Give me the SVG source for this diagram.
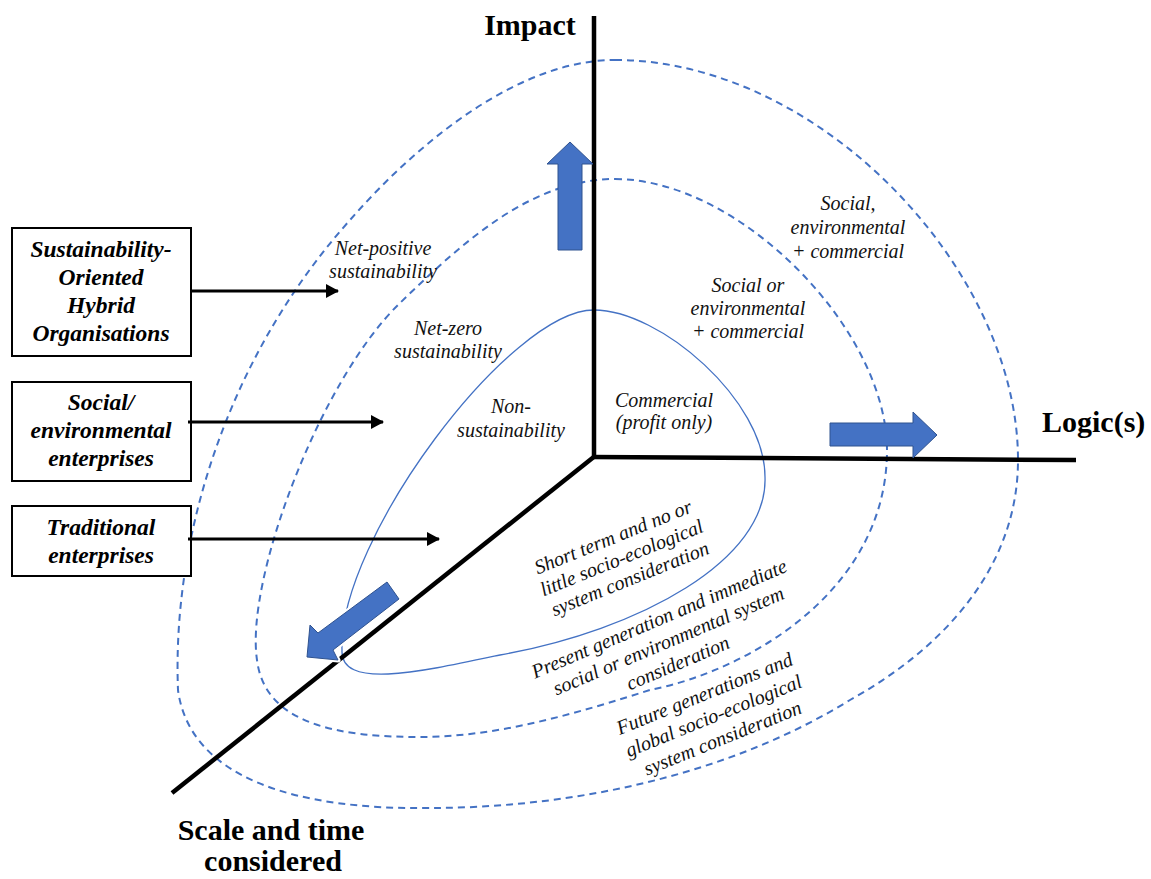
<svg xmlns="http://www.w3.org/2000/svg" width="1151" height="879" viewBox="0 0 1151 879">
<style>
.dash{fill:none;stroke:#4472C4;stroke-width:2;stroke-dasharray:7 5}
.solid{fill:none;stroke:#4472C4;stroke-width:1.3}
.axis{stroke:#000;stroke-width:4.5;fill:none;stroke-linecap:butt}
.barrow{fill:#4472C4;stroke:#2F528F;stroke-width:1}
.box{fill:#fff;stroke:#000;stroke-width:2}
.bt{font-family:"Liberation Serif","Times New Roman",serif;font-weight:bold;font-style:italic;font-size:23.5px;text-anchor:middle;fill:#000}
.lbl{font-family:"Liberation Serif","Times New Roman",serif;font-style:italic;font-size:20px;text-anchor:middle;fill:#111}
.ax{font-family:"Liberation Serif","Times New Roman",serif;font-weight:bold;font-size:30px;fill:#000}
.conn{stroke:#000;stroke-width:3;fill:none}
</style>
<defs>
<marker id="ah" markerUnits="userSpaceOnUse" markerWidth="13" markerHeight="14" refX="12" refY="7" orient="auto">
<path d="M0,0 L13,7 L0,14 Z" fill="#000"/>
</marker>
</defs>
<rect width="1151" height="879" fill="#fff"/>

<g id="rings">
<path id="ring-outer" class="dash" d="M615,60 C820,60 1018,270 1018,460 C1018,570 940,650 850,700 C720,780 560,808 430,808 C300,810 190,780 178,690 C172,540 225,360 350,220 C420,140 520,60 615,60 Z"/>
<path id="ring-middle" class="dash" d="M615,179 C740,179 887,330 887,450 C887,590 750,670 650,690 C580,712 500,737 420,737 C340,737 265,725 257,660 C245,580 320,380 400,303 C460,245 530,179 615,179 Z"/>
<path id="ring-inner" class="solid" d="M594,310 C660,310 765,400 765,477 C768,560 640,630 500,655 C420,672 340,690 342,650 C338,540 510,310 594,310 Z"/>
</g>

<g id="axes">
<line class="axis" x1="594" y1="16" x2="594" y2="459"/>
<line class="axis" x1="592" y1="457" x2="1076" y2="460"/>
<line class="axis" x1="595" y1="456" x2="172" y2="793"/>
</g>

<g id="axis-labels">
<text class="ax" x="530" y="35" text-anchor="middle">Impact</text>
<text class="ax" x="1042" y="432">Logic(s)</text>
<text class="ax" x="271" y="840" text-anchor="middle">Scale and time</text>
<text class="ax" x="273" y="871" text-anchor="middle">considered</text>
</g>

<g id="block-arrows">
<polygon id="arrow-up" class="barrow" points="570,142 593,164 582,164 582,250 558,250 558,164 547,164"/>
<polygon id="arrow-right" class="barrow" points="830,423 913,423 913,412 937,435 913,458 913,446 830,446"/>
<polygon points="387,582 399,599 333,650 338,660 307,657 310,625 318,633" fill="#fff" stroke="#fff" stroke-width="5" stroke-linejoin="round"/>
<polygon id="arrow-diag" class="barrow" points="387,582 399,599 333,650 338,660 307,657 310,625 318,633"/>
</g>

<g id="region-labels">
<text class="lbl" x="383" y="255">Net-positive</text>
<text class="lbl" x="383" y="278">sustainability</text>
<text class="lbl" x="448" y="335">Net-zero</text>
<text class="lbl" x="448" y="358">sustainability</text>
<text class="lbl" x="511" y="413">Non-</text>
<text class="lbl" x="511" y="437">sustainability</text>
<text class="lbl" x="664" y="407">Commercial</text>
<text class="lbl" x="664" y="429">(profit only)</text>
<text class="lbl" x="748" y="292">Social or</text>
<text class="lbl" x="748" y="315">environmental</text>
<text class="lbl" x="748" y="338">+ commercial</text>
<text class="lbl" x="848" y="210">Social,</text>
<text class="lbl" x="848" y="234">environmental</text>
<text class="lbl" x="848" y="258">+ commercial</text>
<g transform="translate(624,564) rotate(-22)">
<text class="lbl" x="0" y="-22.5">Short term and no or</text>
<text class="lbl" x="0" y="0">little socio-ecological</text>
<text class="lbl" x="0" y="22.5">system consideration</text>
</g>
<g transform="translate(671,647) rotate(-23)">
<text class="lbl" x="0" y="-24">Present generation and immediate</text>
<text class="lbl" x="0" y="0">social or environmental system</text>
<text class="lbl" x="0" y="24">consideration</text>
</g>
<g transform="translate(716,722) rotate(-22)">
<text class="lbl" x="0" y="-24">Future generations and</text>
<text class="lbl" x="0" y="0">global socio-ecological</text>
<text class="lbl" x="0" y="24">system consideration</text>
</g>
</g>

<g id="node-sohO">
<rect class="box" x="12" y="228" width="179" height="128"/>
<text class="bt" x="101" y="257">Sustainability-</text>
<text class="bt" x="101" y="285">Oriented</text>
<text class="bt" x="101" y="313">Hybrid</text>
<text class="bt" x="101" y="341">Organisations</text>
</g>
<g id="node-social">
<rect class="box" x="12" y="382" width="179" height="99"/>
<text class="bt" x="101" y="410">Social/</text>
<text class="bt" x="101" y="438">environmental</text>
<text class="bt" x="101" y="466">enterprises</text>
</g>
<g id="node-traditional">
<rect class="box" x="12" y="506" width="179" height="70"/>
<text class="bt" x="101" y="535">Traditional</text>
<text class="bt" x="101" y="563">enterprises</text>
</g>

<g id="connectors">
<line class="conn" x1="191" y1="291" x2="338" y2="291" marker-end="url(#ah)"/>
<line class="conn" x1="188" y1="422" x2="383" y2="422" marker-end="url(#ah)"/>
<line class="conn" x1="188" y1="539" x2="439" y2="539" marker-end="url(#ah)"/>
</g>
</svg>
